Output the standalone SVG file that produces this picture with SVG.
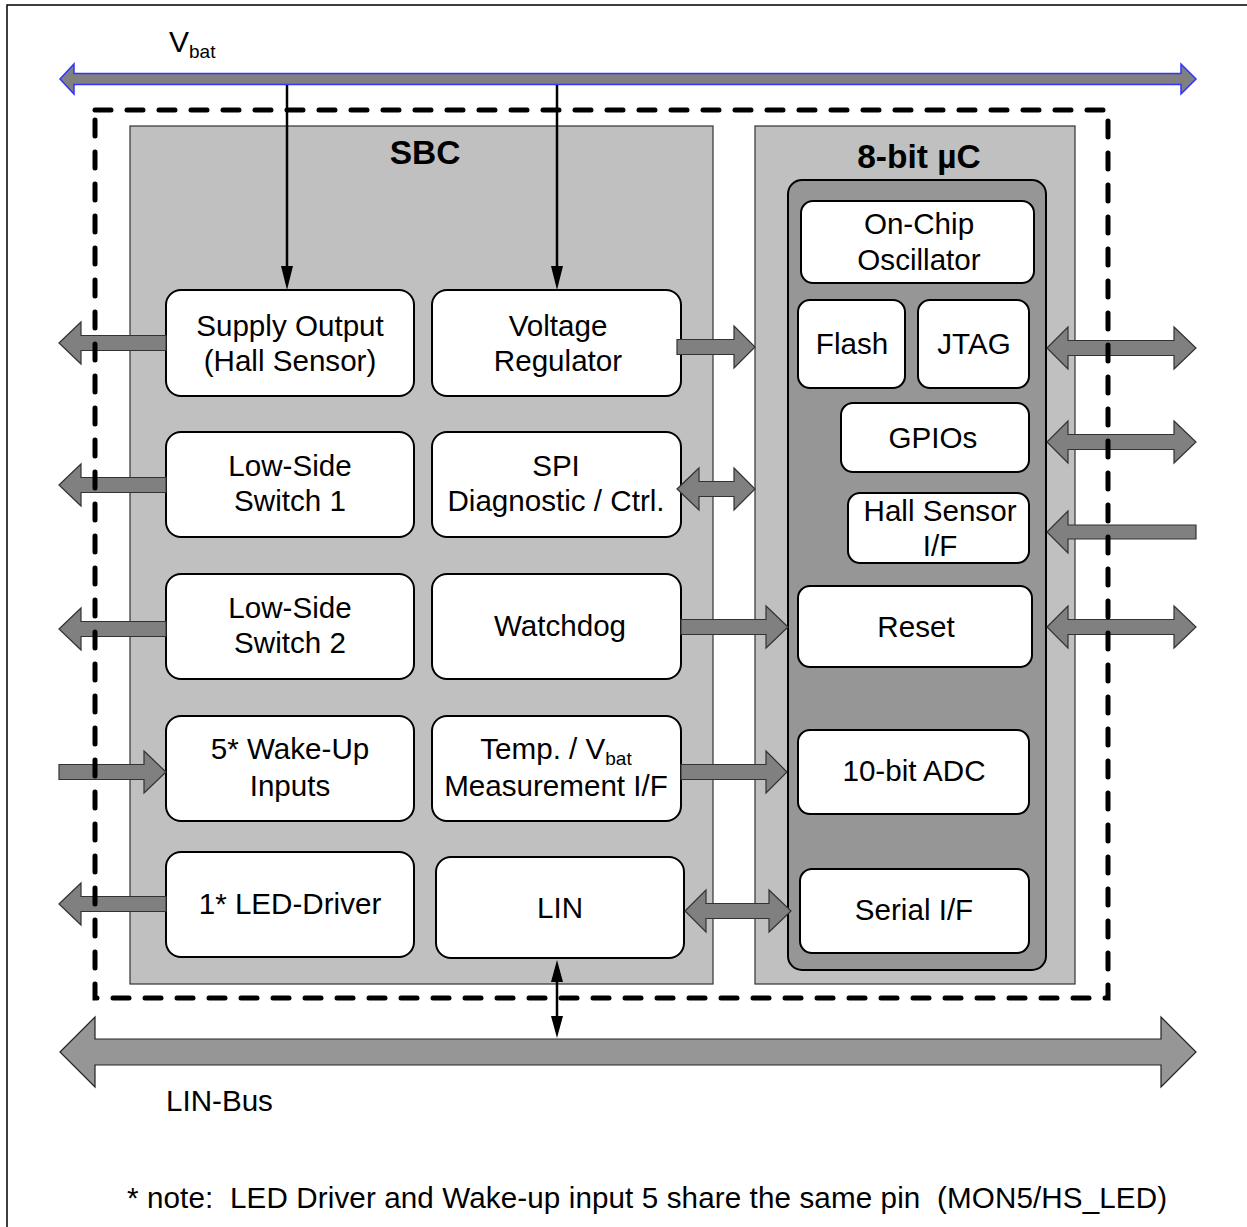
<svg xmlns="http://www.w3.org/2000/svg" width="1247" height="1227" viewBox="0 0 1247 1227">
<style>
text{font-family:"Liberation Sans",Arial,sans-serif;font-size:29.6px;fill:#000;text-anchor:middle}
.b{font-weight:bold;font-size:33.5px}
.sub{font-size:19px}
.panel{fill:#c0c0c0;stroke:#333;stroke-width:1.2}
.inner{fill:#969696;stroke:#000;stroke-width:2}
.box{fill:#fff;stroke:#000;stroke-width:2}
.blk{fill:#808080;stroke:#333;stroke-width:1.2;stroke-linejoin:miter}
.bus{fill:#969696;stroke:#222;stroke-width:1.2}
.vbat{fill:#808080;stroke:#3333ff;stroke-width:1.5}
.wire{stroke:#000;stroke-width:2.5;fill:none}
.head{fill:#000}
</style>
<rect width="1247" height="1227" fill="#fff"/>
<path d="M7,1227 V5 H1247" fill="none" stroke="#000" stroke-width="1.5"/>

<g id="sbc">
<rect class="panel" x="130" y="126" width="583" height="858"/>
<text class="b" x="425" y="164">SBC</text>
</g>
<g id="uc">
<rect class="panel" x="755" y="126" width="320" height="858"/>
<text class="b" x="919" y="168">8-bit µC</text>
<rect class="inner" x="788" y="180" width="258" height="790" rx="14"/>
</g>

<g id="supply"><rect class="box" x="166" y="290" width="248" height="106" rx="15"/><text x="290" y="336">Supply Output</text><text x="290" y="371">(Hall Sensor)</text></g>
<g id="vreg"><rect class="box" x="432" y="290" width="249" height="106" rx="15"/><text x="558" y="336">Voltage</text><text x="558" y="371">Regulator</text></g>
<g id="ls1"><rect class="box" x="166" y="432" width="248" height="105" rx="15"/><text x="290" y="476">Low-Side</text><text x="290" y="511">Switch 1</text></g>
<g id="spi"><rect class="box" x="432" y="432" width="249" height="105" rx="15"/><text x="556" y="476">SPI</text><text x="556" y="511">Diagnostic / Ctrl.</text></g>
<g id="ls2"><rect class="box" x="166" y="574" width="248" height="105" rx="15"/><text x="290" y="618">Low-Side</text><text x="290" y="653">Switch 2</text></g>
<g id="wdog"><rect class="box" x="432" y="574" width="249" height="105" rx="15"/><text x="560" y="636">Watchdog</text></g>
<g id="wake"><rect class="box" x="166" y="716" width="248" height="105" rx="15"/><text x="290" y="759">5* Wake-Up</text><text x="290" y="796">Inputs</text></g>
<g id="temp"><rect class="box" x="432" y="716" width="249" height="105" rx="15"/><text x="556" y="759">Temp. / V<tspan class="sub" dy="6">bat</tspan></text><text x="556" y="796">Measurement I/F</text></g>
<g id="led"><rect class="box" x="166" y="852" width="248" height="105" rx="15"/><text x="290" y="914">1* LED-Driver</text></g>
<g id="lin"><rect class="box" x="436" y="857" width="248" height="101" rx="15"/><text x="560" y="918">LIN</text></g>

<g id="osc"><rect class="box" x="801" y="201" width="233" height="82" rx="12"/><text x="919" y="234">On-Chip</text><text x="919" y="270">Oscillator</text></g>
<g id="flash"><rect class="box" x="798" y="300" width="107" height="88" rx="12"/><text x="852" y="354">Flash</text></g>
<g id="jtag"><rect class="box" x="918" y="300" width="111" height="88" rx="12"/><text x="974" y="354">JTAG</text></g>
<g id="gpio"><rect class="box" x="841" y="403" width="188" height="69" rx="12"/><text x="933" y="448">GPIOs</text></g>
<g id="hall"><rect class="box" x="848" y="493" width="181" height="70" rx="12"/><text x="940" y="521">Hall Sensor</text><text x="940" y="556">I/F</text></g>
<g id="reset"><rect class="box" x="798" y="586" width="234" height="81" rx="12"/><text x="916" y="637">Reset</text></g>
<g id="adc"><rect class="box" x="798" y="730" width="231" height="84" rx="12"/><text x="914" y="781">10-bit ADC</text></g>
<g id="serial"><rect class="box" x="800" y="869" width="229" height="84" rx="12"/><text x="914" y="920">Serial I/F</text></g>

<g id="vbat-bus">
<polygon class="vbat" points="60,79 74,64 74,73.5 1181,73.5 1181,64 1196,79 1181,94 1181,84.5 74,84.5 74,94"/>
<text x="169" y="52" style="text-anchor:start;font-size:30px">V<tspan class="sub" dy="6">bat</tspan></text>
</g>
<g id="lin-bus">
<polygon class="bus" points="60,1052 95,1017 95,1039 1161,1039 1161,1017 1196,1052 1161,1087 1161,1065 95,1065 95,1087"/>
<text x="166" y="1111" style="text-anchor:start">LIN-Bus</text>
</g>

<g id="connectors">
<line class="wire" x1="287" y1="85" x2="287" y2="270"/><polygon class="head" points="287,290 281,266 293,266"/>
<line class="wire" x1="557" y1="85" x2="557" y2="270"/><polygon class="head" points="557,290 551,266 563,266"/>
<line class="wire" x1="557" y1="978" x2="557" y2="1020"/>
<polygon class="head" points="557,960 551,982 563,982"/><polygon class="head" points="557,1038 551,1016 563,1016"/>

<polygon class="blk" points="59,343 81,322 81,335.5 166,335.5 166,350.5 81,350.5 81,364"/>
<polygon class="blk" points="59,485 81,464 81,477.5 166,477.5 166,492.5 81,492.5 81,506"/>
<polygon class="blk" points="59,629 81,608 81,621.5 166,621.5 166,636.5 81,636.5 81,650"/>
<polygon class="blk" points="59,904 81,883 81,896.5 166,896.5 166,911.5 81,911.5 81,925"/>
<polygon class="blk" points="59,764.5 144,764.5 144,751 166,772 144,793 144,779.5 59,779.5"/>

<polygon class="blk" points="677,339.5 734,339.5 734,326 755,347 734,368 734,354.5 677,354.5"/>
<polygon class="blk" points="677,489 699,468 699,481.5 734,481.5 734,468 755,489 734,510 734,496.5 699,496.5 699,510"/>
<polygon class="blk" points="681,619.5 766,619.5 766,606 788,627 766,648 766,634.5 681,634.5"/>
<polygon class="blk" points="681,764.5 766,764.5 766,751 787,772 766,793 766,779.5 681,779.5"/>
<polygon class="blk" points="685,911 706,890 706,903.5 769,903.5 769,890 791,911 769,932 769,918.5 706,918.5 706,932"/>

<polygon class="blk" points="1047,348 1068,327 1068,340.5 1174,340.5 1174,327 1196,348 1174,369 1174,355.5 1068,355.5 1068,369"/>
<polygon class="blk" points="1047,442 1068,421 1068,434.5 1174,434.5 1174,421 1196,442 1174,463 1174,449.5 1068,449.5 1068,463"/>
<polygon class="blk" points="1047,532 1068,511 1068,525 1196,525 1196,539 1068,539 1068,553"/>
<polygon class="blk" points="1047,627 1068,606 1068,619.5 1174,619.5 1174,606 1196,627 1174,648 1174,634.5 1068,634.5 1068,648"/>
</g>

<g id="module-boundary">
<rect x="95" y="110" width="1013" height="888" fill="none" stroke="#000" stroke-width="5" stroke-dasharray="16 16" stroke-linecap="round"/>
</g>

<g id="note">
<text x="127" y="1208" xml:space="preserve" style="text-anchor:start;white-space:pre" textLength="1040" lengthAdjust="spacing">* note:  LED Driver and Wake-up input 5 share the same pin  (MON5/HS_LED)</text>
</g>
</svg>
